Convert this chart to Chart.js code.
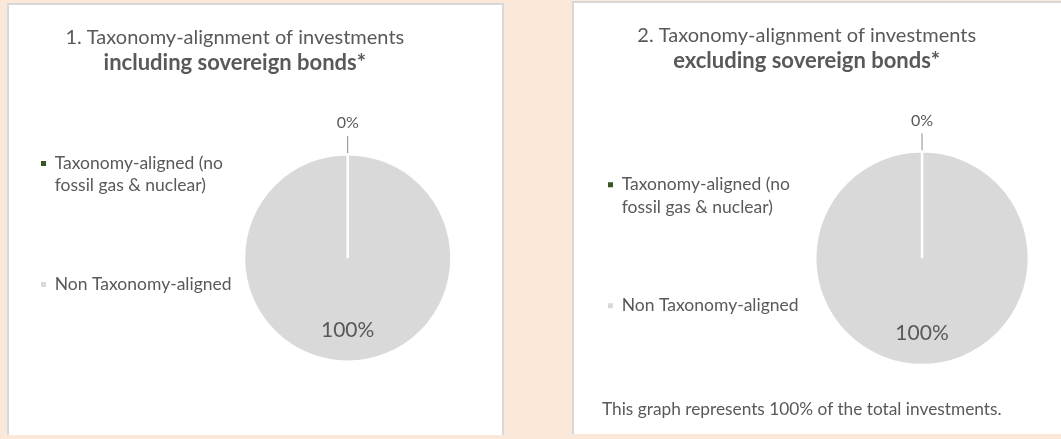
<!DOCTYPE html>
<html lang="en">

<head>
    <meta charset="UTF-8">
    <title>Taxonomy-alignment of investments</title>
    <script src="https://cdn.jsdelivr.net/npm/chart.js"></script>
    <style>
        html,
        body {
            margin: 0;
            padding: 0;
            width: 1061px;
            height: 439px;
            overflow: hidden;
            background-color: #fbe8d8;
            font-family: Lato, sans-serif;
        }

        .panel {
            position: absolute;
            background-color: #ffffff;
            border: 2px solid #d7d8da;
            border-bottom: none;
        }

        .panel canvas {
            display: block;
        }

        #panel1 {
            left: 7px;
            top: 3px;
            width: 493px;
            height: 430px;
        }

        #panel2 {
            left: 572px;
            top: 1px;
            width: 500px;
            height: 431px;
        }

        .note {
            position: absolute;
            left: 28px;
            top: 395px;
            font-size: 17.3px;
            line-height: 21px;
            color: #595959;
            white-space: nowrap;
        }
    </style>
</head>

<body>

    <div class="panel" id="panel1">
        <canvas id="chartIncl" width="493" height="430"></canvas>
    </div>

    <div class="panel" id="panel2">
        <canvas id="chartExcl" width="487" height="431"></canvas>
        <div class="note">This graph represents 100% of the total investments.</div>
    </div>

    <script>
        // data
        const categories = [
            ['Taxonomy-aligned (no', 'fossil gas & nuclear)'],
            ['Non Taxonomy-aligned']
        ];
        const inclSovereignValues = [0, 100];
        const exclSovereignValues = [0, 100];
        const chartTitles = ['1. Taxonomy-alignment of investments', '2. Taxonomy-alignment of investments'];
        const chartSubtitles = ['including sovereign bonds*', 'excluding sovereign bonds*'];

        const sliceColors = ['#375623', '#d9d9d9'];
        const textColor = '#595959';
        const fontFamily = 'Lato, sans-serif';

        // percentage labels on the slices (outside with a leader line for thin slices)
        const sliceLabels = {
            id: 'sliceLabels',
            afterDatasetsDraw(chart) {
                const ctx = chart.ctx;
                const values = chart.data.datasets[0].data;
                const total = values.reduce((a, b) => a + b, 0);
                chart.getDatasetMeta(0).data.forEach((arc, i) => {
                    const p = arc.getProps(['x', 'y', 'startAngle', 'endAngle', 'outerRadius'], true);
                    const mid = (p.startAngle + p.endAngle) / 2;
                    const cos = Math.cos(mid);
                    const sin = Math.sin(mid);
                    const text = Math.round(values[i] / total * 100) + '%';
                    ctx.save();
                    ctx.fillStyle = textColor;
                    ctx.textAlign = 'center';
                    ctx.textBaseline = 'middle';
                    if (p.endAngle - p.startAngle < 0.3) {
                        const r = p.outerRadius;
                        ctx.strokeStyle = '#8c8c8c';
                        ctx.lineWidth = 1;
                        ctx.beginPath();
                        ctx.moveTo(p.x + cos * (r + 1), p.y + sin * (r + 1));
                        ctx.lineTo(p.x + cos * (r + 18), p.y + sin * (r + 18));
                        ctx.stroke();
                        ctx.font = '16px ' + fontFamily;
                        ctx.fillText(text, p.x + cos * (r + 31), p.y + sin * (r + 31));
                    } else {
                        ctx.font = '21px ' + fontFamily;
                        ctx.fillText(text, p.x + cos * p.outerRadius * 0.7, p.y + sin * p.outerRadius * 0.7);
                    }
                    ctx.restore();
                });
            }
        };

        function makeChart(canvasId, title, subtitle, values, opt) {
            const ctx = document.getElementById(canvasId).getContext('2d');
            return new Chart(ctx, {
                type: 'pie',
                data: {
                    labels: categories,
                    datasets: [{
                        data: values,
                        backgroundColor: sliceColors,
                        borderColor: '#ffffff',
                        borderWidth: 2.5,
                        radius: opt.radius
                    }]
                },
                options: {
                    responsive: false,
                    animation: false,
                    events: [],
                    layout: {
                        padding: opt.padding
                    },
                    plugins: {
                        title: {
                            display: true,
                            text: title,
                            color: textColor,
                            font: { family: fontFamily, size: 20, weight: 'normal', lineHeight: 1.2 },
                            padding: { top: 21, bottom: 0 }
                        },
                        subtitle: {
                            display: true,
                            text: subtitle,
                            color: textColor,
                            font: { family: fontFamily, size: 22, weight: 'bold', lineHeight: 1.2 },
                            padding: { top: 0, bottom: opt.subtitleGap }
                        },
                        legend: {
                            position: 'left',
                            align: 'start',
                            fullSize: false,
                            labels: {
                                boxWidth: 5,
                                boxHeight: 5,
                                padding: 32,
                                color: textColor,
                                font: { family: fontFamily, size: 17.5, lineHeight: 1.27 },
                                // two empty lines after the first item give the wide gap between entries
                                generateLabels(chart) {
                                    const ds = chart.data.datasets[0];
                                    return chart.data.labels.map((label, i) => ({
                                        text: i === 0 ? label.concat(['', '']) : label,
                                        fillStyle: ds.backgroundColor[i],
                                        strokeStyle: ds.backgroundColor[i],
                                        lineWidth: 0,
                                        fontColor: textColor,
                                        hidden: false,
                                        index: i
                                    }));
                                }
                            }
                        },
                        tooltip: { enabled: false }
                    }
                },
                plugins: [sliceLabels]
            });
        }

        makeChart('chartIncl', chartTitles[0], chartSubtitles[0], inclSovereignValues, {
            radius: 103.75,
            padding: { left: 0, top: 0, right: 41.4, bottom: 42 },
            subtitleGap: 46.4
        });

        makeChart('chartExcl', chartTitles[1], chartSubtitles[1], exclSovereignValues, {
            radius: 106.85,
            padding: { left: 2, top: 0, right: 23.6, bottom: 61.6 },
            subtitleGap: 69.6
        });
    </script>

</body>

</html>
